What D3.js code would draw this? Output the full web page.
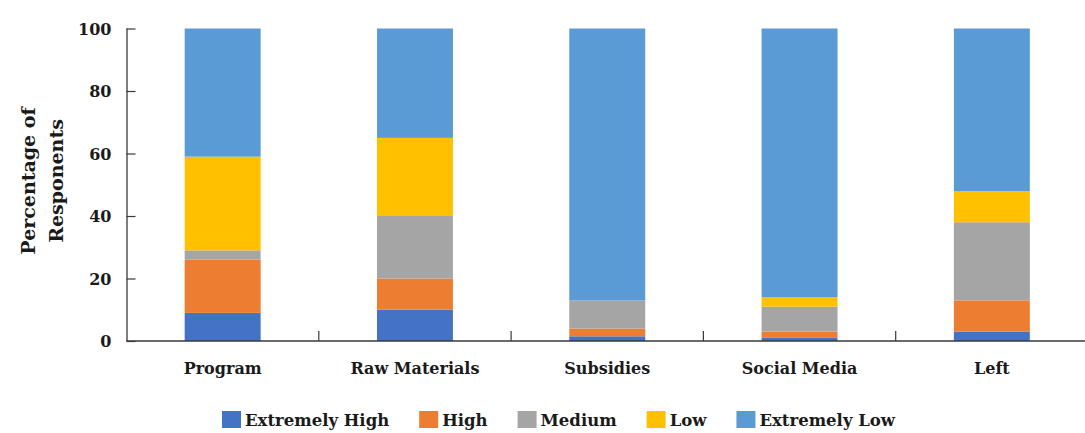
<!DOCTYPE html>
<html>
<head>
<meta charset="utf-8">
<script src="https://cdn.jsdelivr.net/npm/d3@7"></script>
<style>
  html, body { margin: 0; padding: 0; background: #fff; }
  svg { display: block; }
  text { font-family: "DejaVu Serif", serif; font-weight: bold; fill: #1a1a1a; }
</style>
</head>
<body>
<svg id="chart" width="1085" height="433"></svg>
<script>
// Categories and stacked series (percent of respondents)
const categories = ["Program", "Raw Materials", "Subsidies", "Social Media", "Left"];
const levels = ["Extremely High", "High", "Medium", "Low", "Extremely Low"];
const extremelyHigh = [9, 10, 1.5, 1, 3];
const high = [17, 10, 2.5, 2, 10];
const medium = [3, 20, 9, 8, 25];
const low = [30, 25, 0, 3, 10];
const extremelyLow = [41, 35, 87, 86, 52];
const yTicks = [0, 20, 40, 60, 80, 100];
const colors = ["#4472C4", "#ED7D31", "#A5A5A5", "#FFC000", "#5B9BD5"];

const seriesValues = [extremelyHigh, high, medium, low, extremelyLow];
const rows = categories.map((c, i) => {
  const r = { category: c };
  levels.forEach((l, k) => { r[l] = seriesValues[k][i]; });
  return r;
});

const FONT = '"DejaVu Serif", serif';
const svg = d3.select("#chart");
const plotLeft = 126.5, plotRight = 1088, plotTop = 28.5, plotBottom = 341;

const x = d3.scaleBand().domain(categories).range([plotLeft, plotRight])
  .paddingInner(0.605).paddingOuter(0.3025);
const y = d3.scaleLinear().domain([0, 100]).range([plotBottom, plotTop]);
const color = d3.scaleOrdinal().domain(levels).range(colors);

const stacked = d3.stack().keys(levels)(rows);

// stacked bars
svg.append("g").selectAll("g").data(stacked).join("g")
  .attr("fill", d => color(d.key))
  .selectAll("rect").data(d => d).join("rect")
  .attr("x", d => x(d.data.category))
  .attr("width", x.bandwidth())
  .attr("y", d => y(d[1]))
  .attr("height", d => y(d[0]) - y(d[1]));

const axisColor = "#3a3a3a";

// y axis: ticks point inward
const yAxis = svg.append("g").attr("transform", `translate(${plotLeft},0)`)
  .call(d3.axisRight(y).tickValues(yTicks).tickSize(9).tickFormat(d3.format("d")));
yAxis.attr("font-family", null).attr("font-size", null);
yAxis.select(".domain").attr("stroke", axisColor).attr("stroke-width", 1.3)
  .attr("d", `M0.5,${plotTop}V${plotBottom}`);
yAxis.selectAll(".tick line").attr("stroke", axisColor).attr("stroke-width", 1.2);
yAxis.selectAll(".tick text")
  .attr("x", -15).attr("text-anchor", "end").attr("dy", "0.36em")
  .style("font-family", FONT).style("font-size", "16px")
  .attr("fill", "#1a1a1a");

// x axis line
svg.append("line")
  .attr("x1", plotLeft).attr("x2", 1085).attr("y1", plotBottom).attr("y2", plotBottom)
  .attr("stroke", axisColor).attr("stroke-width", 1.5);

// category separator ticks (inward)
const step = x.step();
const seps = categories.slice(1).map(c => x(c) + x.bandwidth() / 2 - step / 2);
svg.append("g").selectAll("line").data(seps).join("line")
  .attr("x1", d => d).attr("x2", d => d)
  .attr("y1", plotBottom).attr("y2", plotBottom - 10)
  .attr("stroke", axisColor).attr("stroke-width", 1.2);

// category labels
svg.append("g").selectAll("text").data(categories).join("text")
  .attr("x", d => x(d) + x.bandwidth() / 2)
  .attr("y", 374)
  .attr("text-anchor", "middle")
  .style("font-family", FONT).style("font-size", "16px")
  .text(d => d);

// y axis title
const title = svg.append("text")
  .attr("transform", "translate(35,181) rotate(-90)")
  .attr("text-anchor", "middle")
  .style("font-family", FONT).style("font-size", "19px");
title.append("tspan").attr("x", 0).attr("y", 0).text("Percentage of");
title.append("tspan").attr("x", 0).attr("y", 28).text("Responents");

// legend
const legend = svg.append("g");
let lx = 222;
levels.forEach((l, i) => {
  const g = legend.append("g").attr("transform", `translate(${lx},0)`);
  g.append("rect").attr("x", 0).attr("y", 411).attr("width", 19).attr("height", 17)
    .attr("fill", color(l));
  const t = g.append("text").attr("x", 23).attr("y", 426)
    .style("font-family", FONT).style("font-size", "16.5px").text(l);
  lx += 23 + t.node().getComputedTextLength() + 30;
});
</script>
</body>
</html>
